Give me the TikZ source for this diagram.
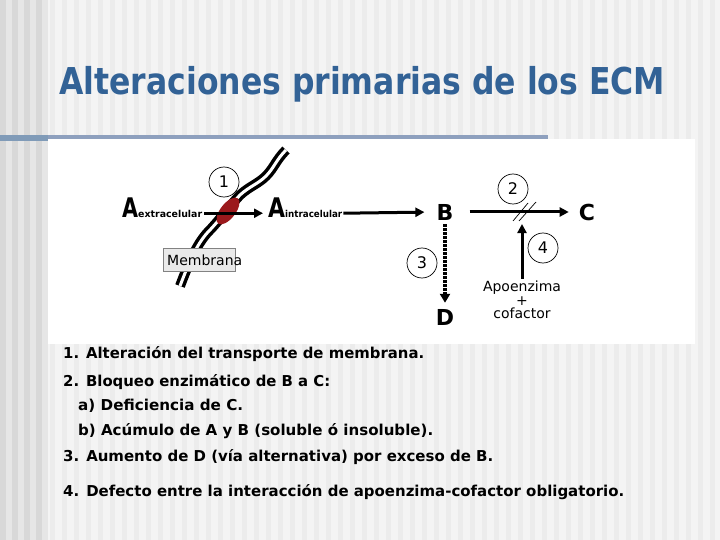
\documentclass[tikz,border=0pt]{standalone}
\usepackage{fontspec}
\setmainfont{DejaVu Sans}
\usepackage{graphicx}
\usetikzlibrary{arrows.meta}
\definecolor{titleblue}{RGB}{50,98,150}
\definecolor{bgmain}{RGB}{244,244,244}
\definecolor{bgstripe}{RGB}{236,236,236}
\definecolor{leftcol}{RGB}{230,230,230}
\definecolor{leftstripe}{RGB}{216,216,216}
\definecolor{barblue}{RGB}{142,160,190}
\definecolor{barblueL}{RGB}{128,155,184}
\definecolor{protred}{RGB}{155,25,28}
\definecolor{boxgray}{RGB}{234,234,234}
\definecolor{boxedge}{RGB}{130,130,130}
\tikzset{
  arr/.style={line width=3pt, -{Triangle[length=9pt,width=9pt]}},
  dotarr/.style={line width=4pt, dash pattern=on 2.5pt off 1.5pt, -{Triangle[length=9pt,width=10pt]}},
  numcirc/.style={circle, draw, line width=0.7pt, minimum size=30pt, inner sep=0pt, font=\fontsize{16}{16}\selectfont},
  letter/.style={inner sep=2pt, font=\bfseries\fontsize{22}{22}\selectfont},
  memouter/.style={draw=black, line width=10pt, line cap=butt},
  meminner/.style={draw=white, line width=3pt, line cap=butt},
  listline/.style={anchor=base west, inner sep=0pt, font=\bfseries\fontsize{15}{15}\selectfont},
  conc/.style={anchor=base west, inner sep=1pt, font=\bfseries},
}
\begin{document}
\begin{tikzpicture}[x=1pt,y=-1pt]
\useasboundingbox (0,0) rectangle (720,540);
% background
\fill[bgmain] (0,0) rectangle (720,540);
\foreach \x in {50,62,...,720} \fill[bgstripe] (\x,0) rectangle ++(5,540);
\fill[leftcol] (0,0) rectangle (48,540);
\foreach \x in {0,12,24,36} \fill[leftstripe] (\x,0) rectangle ++(6,540);
% bar and panel
\fill[barblueL] (0,135) rectangle (48,141);
\fill[barblue] (48,135) rectangle (548,139);
\fill[white] (48,139) rectangle (695,344);
% title
\node[anchor=base west, inner sep=0pt, text=titleblue, font=\bfseries\fontsize{37}{37}\selectfont] (title) at (59,95)
  {\resizebox{606pt}{\height}{Alteraciones primarias de los ECM}};
% membrane
\def\mempath{(180,286) .. controls (188,265) and (196,245) .. (208,232)
  .. controls (218,222) and (228,208) .. (240,195)
  .. controls (250,186) and (258,184) .. (266,176)
  .. controls (274,168) and (276,160) .. (286,150)}
\draw[memouter] \mempath;
\draw[meminner] \mempath;
\fill[protred, rotate around={52:(228,211)}] (228,211) ellipse (16 and 7.5);
% membrana label
\filldraw[fill=boxgray, draw=boxedge, line width=0.8pt] (163,248) rectangle (235,271);
\node[anchor=west, inner sep=0pt, font=\fontsize{14}{14}\selectfont] (memlab) at (167,260) {Membrana};
% A nodes
\node[conc] (aext) at (121,218)
  {\resizebox{16pt}{\height}{\fontsize{27}{27}\selectfont A}\resizebox{64pt}{\height}{\fontsize{9.5}{9.5}\selectfont extracelular}};
\node[conc] (aint) at (267,218)
  {\resizebox{17pt}{\height}{\fontsize{27}{27}\selectfont A}\resizebox{57pt}{\height}{\fontsize{9.5}{9.5}\selectfont intracelular}};
\node[letter] (B) at (445,212) {B};
\node[letter] (C) at (587,212) {C};
\node[letter] (D) at (445,317) {D};
% circles
\node[numcirc] (n1) at (224,182) {1};
\node[numcirc] (n2) at (513,189) {2};
\node[numcirc] (n3) at (422,263) {3};
\node[numcirc] (n4) at (543,248) {4};
% apoenzima
\node[align=center, inner sep=0pt, font=\fontsize{14}{13.5}\selectfont] (apo) at (522,300) {Apoenzima\\+\\cofactor};
\coordinate (blk) at (522,224);
% arrows
\draw[arr, shorten <=1pt, shorten >=4pt] ([yshift=-5pt]aext.east) -- ([yshift=-5pt]aint.west);
\draw[arr, shorten >=10pt] ([yshift=-5pt]aint.east) -- (B.west);
\draw[arr, shorten <=14pt, shorten >=8pt] (B.east) -- (C.west);
\draw[dotarr, shorten <=2pt, shorten >=4pt] (B.south) -- (D.north);
\draw[arr, shorten <=2pt] (apo.north) -- (blk);
\draw[line width=0.7pt] (513,221) -- (528,203);
\draw[line width=0.7pt] (519,221) -- (536,202);
% list
\node[listline] (l1) at (63,358) {\resizebox{361pt}{\height}{1. Alteración del transporte de membrana.}};
\node[listline] (l2) at (63,386) {\resizebox{267pt}{\height}{2. Bloqueo enzimático de B a C:}};
\node[listline] (l3) at (78,410) {\resizebox{165pt}{\height}{a) Deficiencia de C.}};
\node[listline] (l4) at (78,435) {\resizebox{355pt}{\height}{b) Acúmulo de A y B (soluble ó insoluble).}};
\node[listline] (l5) at (63,461) {\resizebox{430pt}{\height}{3. Aumento de D (vía alternativa) por exceso de B.}};
\node[listline] (l6) at (63,496) {\resizebox{561pt}{\height}{4. Defecto entre la interacción de apoenzima-cofactor obligatorio.}};
\end{tikzpicture}
\end{document}
